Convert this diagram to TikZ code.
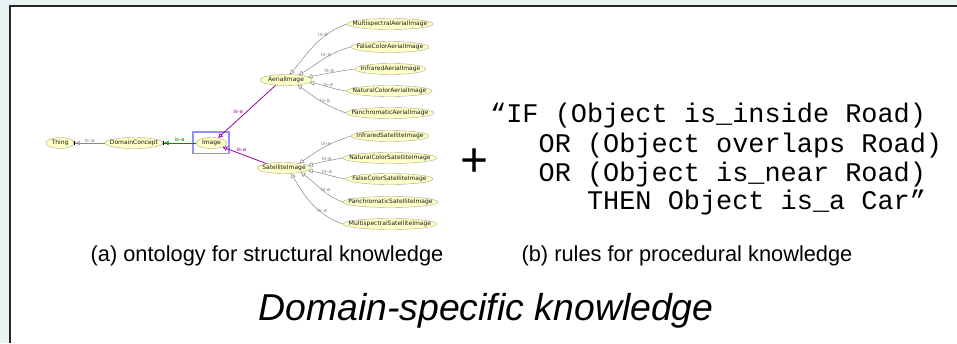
\documentclass[tikz,border=0pt]{standalone}
\usepackage{fontspec}
\setmainfont{Liberation Sans}
\newfontfamily\ontofam{DejaVu Sans}
\newfontfamily\rulefam{Liberation Mono}
\usetikzlibrary{shapes.geometric,arrows.meta}
\definecolor{outerbg}{HTML}{E9F3F3}
\definecolor{ellfill}{HTML}{FFFFC8}
\definecolor{ellline}{HTML}{ABAB85}
\definecolor{edgegray}{HTML}{888888}
\definecolor{isapurple}{HTML}{9A0A9A}
\definecolor{isagreen}{HTML}{008A00}
\definecolor{selblue}{HTML}{9090FF}
\begin{document}
\begin{tikzpicture}[x=1pt,y=1pt,
  onto/.style={ellipse,draw=ellline,fill=ellfill,line width=0.4pt,
    minimum height=11pt,minimum width=#1,inner sep=0pt},
  ontotext/.style={font=\ontofam\fontsize{6}{7}\selectfont,text=black!90,inner sep=0pt},
  isa/.style={draw=edgegray,line width=0.5pt,-{Triangle[open,length=4.5pt,width=4.5pt]}},
  isalbl/.style={font=\ontofam\fontsize{5.5}{6}\selectfont,text=edgegray,inner sep=0.6pt},
  isapur/.style={draw=isapurple,line width=0.8pt,-{Triangle[open,length=4.5pt,width=4.5pt]}},
  isagrn/.style={draw=isagreen,line width=0.8pt,
    -{Triangle[open,length=4.5pt,width=4.5pt] Bar[black,width=4pt,line width=1pt]}},
  isaroot/.style={draw=edgegray,line width=0.5pt,
    -{Triangle[open,length=4.5pt,width=4.5pt] Bar[black,width=4pt,line width=1pt]}},
  ruleline/.style={font=\rulefam\fontsize{26.9}{28.8}\selectfont,anchor=base west,inner sep=0pt},
  caption/.style={font=\fontsize{21.8}{24}\selectfont,anchor=base,inner sep=0pt}
]
\useasboundingbox (0,0) rectangle (957,343);
% page background and frame
\fill[outerbg] (0,0) rectangle (957,343);
\fill[white] (10,0) rectangle (957,337.2);
\draw[black!85,line width=1.6pt] (10,0) -- (10,337.2) -- (957,337.2);

% selection box around the Image class
\node[draw=selblue,line width=1.4pt,minimum width=36pt,minimum height=21.5pt,inner sep=0pt]
  (imgsel) at (211,200.25) {};

% ontology classes
\node[onto=28pt, label={[ontotext]center:Thing}] (thing) at (60,200) {};
\node[onto=58pt, label={[ontotext]center:DomainConcept}] (dc) at (134,200) {};
\node[onto=31pt, label={[ontotext]center:Image}] (img) at (211.5,200) {};
\node[onto=52pt, label={[ontotext]center:AerialImage}] (ai) at (286,263) {};
\node[onto=54pt, label={[ontotext]center:SatelliteImage}] (si) at (284,175) {};

\node[onto=86pt, label={[ontotext]center:MultispectralAerialImage}] (mai) at (390,319) {};
\node[onto=78pt, label={[ontotext]center:FalseColorAerialImage}] (fcai) at (390,296) {};
\node[onto=71pt, label={[ontotext]center:InfraredAerialImage}] (irai) at (390.5,274) {};
\node[onto=85pt, label={[ontotext]center:NaturalColorAerialImage}] (ncai) at (389.5,252) {};
\node[onto=88pt, label={[ontotext]center:PanchromaticAerialImage}] (pai) at (390,230) {};

\node[onto=78pt, label={[ontotext]center:InfraredSatelliteImage}] (iri) at (390,207) {};
\node[onto=94pt, label={[ontotext]center:NaturalColorSatelliteImage}] (ncsi) at (390,185) {};
\node[onto=87pt, label={[ontotext]center:FalseColorSatelliteImage}] (fcsi) at (389.5,164) {};
\node[onto=95pt, label={[ontotext]center:PanchromaticSatelliteImage}] (psi) at (390.5,141) {};
\node[onto=94pt, label={[ontotext]center:MultispectralSatelliteImage}] (msi) at (390,119) {};

% is-a relations
\draw[isaroot] (dc.west) -- node[isalbl,above] {is-a} (thing.east);
\draw[isagrn] (img.west) -- node[isalbl,text=isagreen,above] {is-a} (dc.east);
\draw[isapur] (ai.207) -- node[isalbl,text=isapurple,pos=0.55,anchor=south east] {is-a} (img.38);
\draw[isapur] (si.166) -- node[isalbl,text=isapurple,pos=0.57,anchor=south,yshift=1.5pt] {is-a} (img.-20);

\draw[isa] (mai.west)  to[out=200,in=50]  node[isalbl,pos=0.35,above] {is-a} (ai.55);
\draw[isa] (fcai.west) to[out=195,in=30]  node[isalbl,pos=0.45,above] {is-a} (ai.22);
\draw[isa] (irai.west) to[out=188,in=10]  node[isalbl,pos=0.55,above] {is-a} (ai.8);
\draw[isa] (ncai.west) to[out=172,in=-10] node[isalbl,pos=0.5,above] {is-a} (ai.-6);
\draw[isa] (pai.west)  to[out=160,in=-35] node[isalbl,pos=0.4,above] {is-a} (ai.-24);

\draw[isa] (iri.west)  to[out=198,in=35]  node[isalbl,pos=0.46,above] {is-a} (si.17);
\draw[isa] (ncsi.west) to[out=190,in=15]  node[isalbl,pos=0.46,above] {is-a} (si.6);
\draw[isa] (fcsi.west) to[out=170,in=-10] node[isalbl,pos=0.5,above] {is-a} (si.-6);
\draw[isa] (psi.west)  to[out=160,in=-35] node[isalbl,pos=0.37,above] {is-a} (si.-15);
\draw[isa] (msi.west)  to[out=160,in=-60] node[isalbl,pos=0.31,above] {is-a} (si.-37);

% plus sign and the rule
\node[font=\fontsize{48}{48}\selectfont,inner sep=0pt] (plus) at (475,180) {+};
\node[ruleline] (r1) at (490,220)   {“IF (Object is\_inside Road)};
\node[ruleline] (r2) at (490,190.3) {\phantom{xxx}OR (Object overlaps Road)};
\node[ruleline] (r3) at (490,162)   {\phantom{xxx}OR (Object is\_near Road)};
\node[ruleline] (r4) at (490,133.7) {\phantom{xxxxxx}THEN Object is\_a Car”};

% captions
\node[caption] (capa) at (267,82) {(a) ontology for structural knowledge};
\node[caption] (capb) at (687,82) {(b) rules for procedural knowledge};
\node[font=\fontsize{37.4}{40}\selectfont\itshape,anchor=base,inner sep=0pt] (title)
  at (486,23) {Domain-specific knowledge};
\end{tikzpicture}
\end{document}
